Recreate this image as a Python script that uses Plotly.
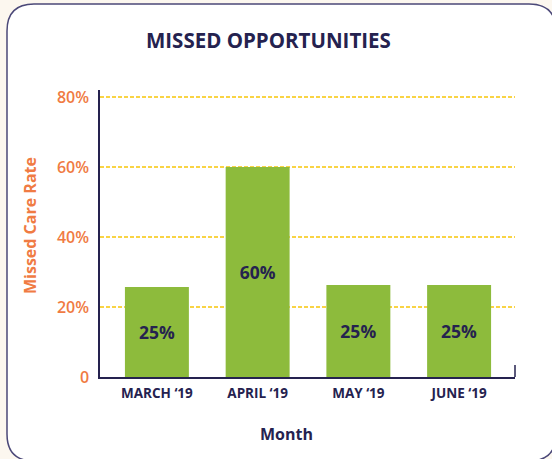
import plotly.graph_objects as go

months = ["MARCH \u201819", "APRIL \u201819", "MAY \u201819", "JUNE \u201819"]
rates = [25.7, 60, 26.3, 26.3]
bar_labels = ["25%", "60%", "25%", "25%"]
ytick_vals = [0, 20, 40, 60, 80]
ytick_text = ["0", "20%", "40%", "60%", "80%"]

NAVY = "#25224F"
ORANGE = "#F07B43"
GREEN = "#8DBB3C"
GOLD = "#F9D445"
BG = "#FCF7EF"
FONT = "Open Sans"

W, H = 552, 459
L, R = 100, 515
T, B = 90, 377
pw, ph = R - L, B - T


def px(x):
    return (x - L) / pw


def py(y):
    return (B - y) / ph


bx0, by0, bx1, by1, r = 7, 4, 556, 461, 27
pts = [
    ("M", [(bx0 + r, by0)]),
    ("L", [(bx1 - r, by0)]),
    ("Q", [(bx1, by0), (bx1, by0 + r)]),
    ("L", [(bx1, by1 - r)]),
    ("Q", [(bx1, by1), (bx1 - r, by1)]),
    ("L", [(bx0 + r, by1)]),
    ("Q", [(bx0, by1), (bx0, by1 - r)]),
    ("L", [(bx0, by0 + r)]),
    ("Q", [(bx0, by0), (bx0 + r, by0)]),
]
path = " ".join(
    cmd + " " + " ".join(f"{px(x):.5f},{py(y):.5f}" for x, y in p) for cmd, p in pts
) + " Z"

fig = go.Figure(
    go.Bar(
        x=months,
        y=rates,
        text=bar_labels,
        textposition="inside",
        insidetextanchor="middle",
        textangle=0,
        textfont=dict(family=FONT, size=17.5, color=NAVY, weight="bold"),
        marker=dict(color=GREEN, line=dict(width=0)),
        width=0.635,
        hoverinfo="skip",
    )
)

fig.update_layout(
    width=W,
    height=H,
    margin=dict(l=L, r=W - R, t=T, b=H - B),
    paper_bgcolor=BG,
    plot_bgcolor="rgba(0,0,0,0)",
    showlegend=False,
    font=dict(family=FONT, color=NAVY),
    shapes=[
        dict(type="path", path=path, xref="paper", yref="paper",
             fillcolor="white", line=dict(color="#4B4878", width=1.5), layer="below"),
        dict(type="line", xref="paper", yref="paper", x0=1, x1=1, y0=0, y1=12 / ph,
             line=dict(color=NAVY, width=1.5)),
    ],
    annotations=[
        dict(text="<b>MISSED OPPORTUNITIES</b>", xref="paper", yref="paper",
             x=px(268.5), y=py(40), showarrow=False, xanchor="center", yanchor="middle",
             font=dict(family=FONT, size=20.5, color=NAVY)),
        dict(text="<b>Missed Care Rate</b>", xref="paper", yref="paper",
             x=px(30), y=py(226), showarrow=False, textangle=-90,
             xanchor="center", yanchor="middle",
             font=dict(family=FONT, size=16, color=ORANGE)),
        dict(text="<b>Month</b>", xref="paper", yref="paper",
             x=px(286), y=py(434), showarrow=False, xanchor="center", yanchor="middle",
             font=dict(family=FONT, size=16, color=NAVY)),
    ],
)

fig.update_xaxes(
    range=[-0.565, 3.555],
    showline=True, linecolor=NAVY, linewidth=1.5,
    showgrid=False, ticks="", ticklabelstandoff=3,
    tickfont=dict(family=FONT, size=13.5, color=NAVY, weight="bold"),
    fixedrange=True,
)
fig.update_yaxes(
    range=[0, 82],
    tickvals=ytick_vals, ticktext=ytick_text,
    showline=True, linecolor=NAVY, linewidth=1.5,
    showgrid=True, gridcolor=GOLD, gridwidth=1.5, griddash="4px,2px",
    zeroline=False, ticks="", ticklabelstandoff=6,
    tickfont=dict(family=FONT, size=16, color=ORANGE, weight=600),
    fixedrange=True,
)

fig.write_html(
    "out.html",
    config={"displayModeBar": False},
    post_script="document.body.style.margin='0';document.body.style.background='" + BG + "';",
)
